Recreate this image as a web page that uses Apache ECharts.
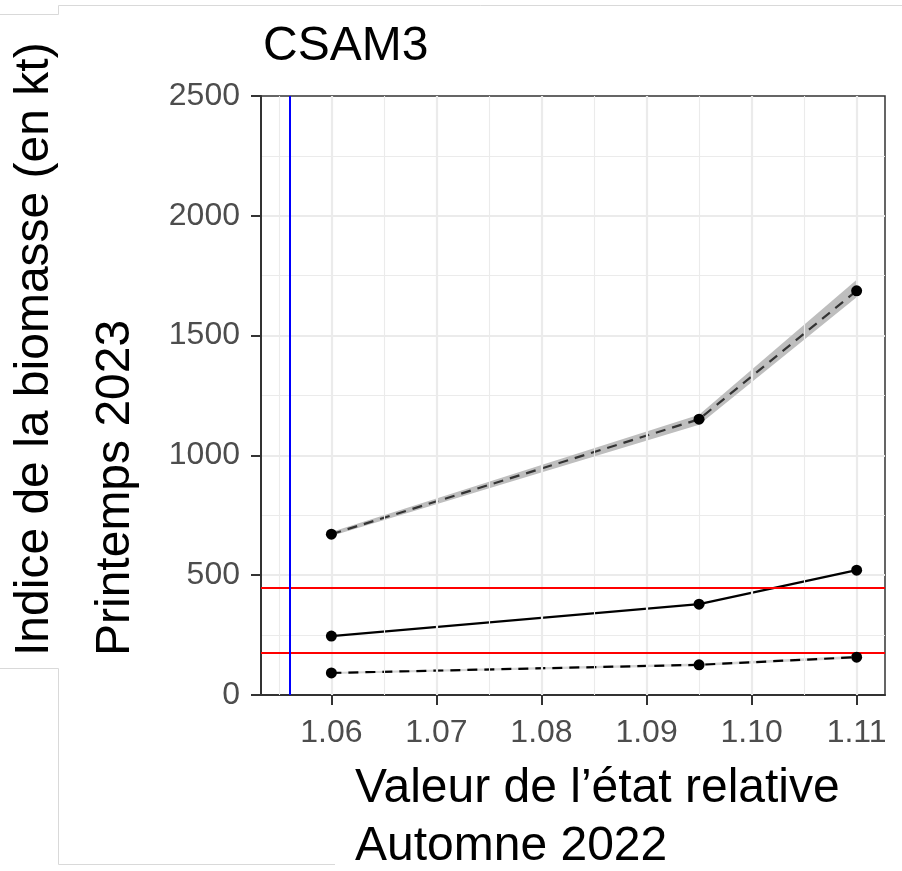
<!DOCTYPE html>
<html>
<head>
<meta charset="utf-8">
<script src="https://cdn.jsdelivr.net/npm/echarts@6/dist/echarts.min.js"></script>
<style>
html,body{margin:0;padding:0;background:#fff;}
#chart{width:902px;height:871px;}
</style>
</head>
<body>
<div id="chart"></div>
<script>
// ---- data ----
const titleText = 'CSAM3';
const yTitleLines = ['Indice de la biomasse (en kt)', 'Printemps 2023'];
const xTitleLines = ['Valeur de l\u2019\u00e9tat relative', 'Automne 2022'];
const xVals = [1.06, 1.095, 1.11];
const upperMean = [671, 1151, 1687];
const upperLow = [664, 1128, 1660];
const upperHigh = [680, 1170, 1733];
const midVals = [246, 379, 521];
const lowVals = [92, 126, 158];
const lowLow = [88, 121, 152];
const lowHigh = [96, 131, 164];
const refLinesY = [175, 446];
const refLineX = 1.056;
const xTicks = [1.06, 1.07, 1.08, 1.09, 1.10, 1.11];
const xMinorGrid = [1.055, 1.065, 1.075, 1.085, 1.095, 1.105];
const xMin = 1.0533, xMax = 1.1127;
const yMin = 0, yMax = 2500, yStep = 500;

const FONT = '"Liberation Sans", Arial, sans-serif';
const chart = echarts.init(document.getElementById('chart'), null, {renderer: 'canvas'});

const pairs = (xs, ys) => xs.map((x, i) => [x, ys[i]]);

const gridLineData = xTicks.map(v => ({xAxis: v, lineStyle: {color: '#EBEBEB', width: 2.2, type: 'solid'}}))
  .concat(xMinorGrid.map(v => ({xAxis: v, lineStyle: {color: '#EBEBEB', width: 1.1, type: 'solid'}})));

function ribbonSeries(name, lo, hi, color) {
  return {
    name: name, type: 'custom', z: 1, silent: true, clip: true,
    data: [[xVals[0], lo[0]]],
    renderItem: function (params, api) {
      const top = xVals.map((x, i) => api.coord([x, hi[i]]));
      const bot = xVals.map((x, i) => api.coord([x, lo[i]])).reverse();
      return {type: 'polygon', shape: {points: top.concat(bot)}, style: {fill: color, stroke: null}};
    }
  };
}

const dotStyle = {color: '#000000', borderColor: '#000000', borderWidth: 0, opacity: 1};

function lineSeries(name, ys, color, type) {
  return {
    name: name, type: 'line', data: pairs(xVals, ys), z: 4,
    symbol: 'none',
    lineStyle: {color: color, width: 2.2, type: type}
  };
}
function dotSeries(name, ys) {
  return {
    name: name, type: 'scatter', data: pairs(xVals, ys), z: 5,
    symbol: 'circle', symbolSize: 11, itemStyle: dotStyle
  };
}

const option = {
  animation: false,
  backgroundColor: '#ffffff',
  grid: {left: 261, right: 17, top: 96, bottom: 176, show: true, borderColor: '#333333', borderWidth: 1.5, backgroundColor: 'transparent'},
  xAxis: {
    type: 'value', min: xMin, max: xMax,
    axisLine: {show: true, lineStyle: {color: '#333333', width: 2}},
    axisTick: {show: true, length: 10, lineStyle: {color: '#333333', width: 2}, customValues: xTicks},
    axisLabel: {show: true, customValues: xTicks, margin: 22, fontSize: 32, color: '#4D4D4D', fontFamily: FONT,
      formatter: v => Number(v).toFixed(2)},
    splitLine: {show: false}
  },
  yAxis: {
    type: 'value', min: yMin, max: yMax, interval: yStep,
    axisLine: {show: true, lineStyle: {color: '#333333', width: 2}},
    axisTick: {show: true, length: 10, lineStyle: {color: '#333333', width: 2}},
    axisLabel: {margin: 21, fontSize: 32, color: '#4D4D4D', fontFamily: FONT, formatter: v => String(v)},
    splitLine: {show: true, showMaxLine: false, showMinLine: false, lineStyle: {color: '#EBEBEB', width: 2.2}},
    minorTick: {show: false, splitNumber: 2},
    minorSplitLine: {show: true, lineStyle: {color: '#EBEBEB', width: 1.1}}
  },
  series: [
    {
      name: 'grid', type: 'line', data: [], z: 0, silent: true, symbol: 'none',
      markLine: {silent: true, symbol: 'none', precision: 4, label: {show: false}, data: gridLineData, animation: false}
    },
    ribbonSeries('upRibbon', upperLow, upperHigh, '#BEBEBE'),
    ribbonSeries('lowRibbon', lowLow, lowHigh, '#D6D6D6'),
    {
      name: 'refs', type: 'line', data: [], z: 3, symbol: 'none',
      markLine: {silent: true, symbol: 'none', precision: 4, label: {show: false}, animation: false,
        data: refLinesY.map(v => ({yAxis: v, lineStyle: {color: '#FF0000', width: 2, type: 'solid'}}))
          .concat([{xAxis: refLineX, lineStyle: {color: '#0000FF', width: 2, type: 'solid'}}])}
    },
    lineSeries('upper', upperMean, '#333333', [10, 7]),
    lineSeries('mid', midVals, '#000000', 'solid'),
    lineSeries('low', lowVals, '#000000', [10, 7]),
    dotSeries('upperPts', upperMean),
    dotSeries('midPts', midVals),
    dotSeries('lowPts', lowVals)
  ],
  graphic: [
    // pasted panel outlines
    {type: 'polyline', silent: true, shape: {points: [[0, 14.5], [58.5, 14.5], [58.5, 5.5], [902, 5.5]]}, style: {stroke: '#D9D9D9', lineWidth: 1, fill: null}},
    {type: 'polyline', silent: true, shape: {points: [[0, 668.5], [58.5, 668.5], [58.5, 864.5], [335, 864.5]]}, style: {stroke: '#D9D9D9', lineWidth: 1, fill: null}},
    // title
    {type: 'text', silent: true, x: 263, y: 47, style: {text: titleText, font: '48px ' + FONT, fill: '#000', textAlign: 'left', textVerticalAlign: 'middle'}},
    // y titles (rotated)
    {type: 'text', silent: true, x: 35, y: 656, rotation: Math.PI / 2, style: {text: yTitleLines[0], font: '48px ' + FONT, fill: '#000', textAlign: 'left', textVerticalAlign: 'middle'}},
    {type: 'text', silent: true, x: 116, y: 656, rotation: Math.PI / 2, style: {text: yTitleLines[1], font: '48px ' + FONT, fill: '#000', textAlign: 'left', textVerticalAlign: 'middle'}},
    // x titles
    {type: 'text', silent: true, x: 355, y: 789, style: {text: xTitleLines[0], font: '48px ' + FONT, fill: '#000', textAlign: 'left', textVerticalAlign: 'middle'}},
    {type: 'text', silent: true, x: 355, y: 847, style: {text: xTitleLines[1], font: '48px ' + FONT, fill: '#000', textAlign: 'left', textVerticalAlign: 'middle'}}
  ]
};
chart.setOption(option);
</script>
</body>
</html>
